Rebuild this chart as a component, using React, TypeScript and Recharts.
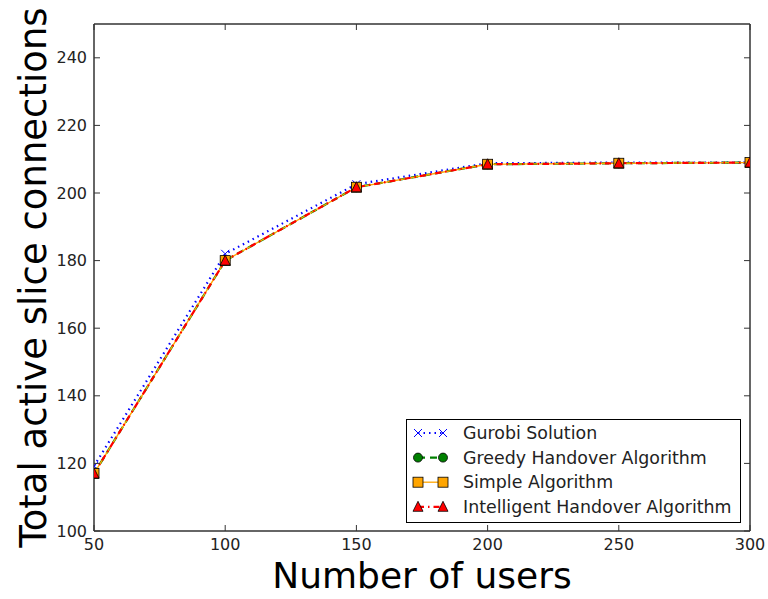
import React from 'react';
import { LineChart, Line, XAxis, YAxis, Legend, Label } from 'recharts';

// Number of users (x axis)
const users = [50, 100, 150, 200, 250, 300];

// Total active slice connections for each approach
const gurobi = [119.2, 182, 202.6, 208.8, 209, 209];
const greedy = [117, 180, 201.7, 208.5, 208.8, 209];
const simple = [117, 180, 201.7, 208.5, 208.8, 209];
const intelligent = [117, 180, 201.7, 208.5, 208.8, 209];

const xTicks = [50, 100, 150, 200, 250, 300];
const yTicks = [100, 120, 140, 160, 180, 200, 220, 240];

const data = users.map((u, i) => ({
  users: u,
  gurobi: gurobi[i],
  greedy: greedy[i],
  simple: simple[i],
  intelligent: intelligent[i],
}));

const FONT = '"DejaVu Sans", sans-serif';
const SPINE = '#333';
const TICK_LEN = 6;
const TICK_FONT = 16;

type Marker = 'x' | 'circle' | 'square' | 'triangle';

const MarkerShape = ({ kind, cx, cy, color }: { kind: Marker; cx: number; cy: number; color: string }) => {
  if (cx == null || cy == null) return null;
  switch (kind) {
    case 'x':
      return (
        <path
          d={`M${cx - 4},${cy - 4}L${cx + 4},${cy + 4}M${cx - 4},${cy + 4}L${cx + 4},${cy - 4}`}
          stroke={color}
          strokeWidth={1}
          fill="none"
        />
      );
    case 'circle':
      return <circle cx={cx} cy={cy} r={4.5} fill={color} stroke="#000" strokeWidth={0.8} />;
    case 'square':
      return <rect x={cx - 5} y={cy - 5} width={10} height={10} fill={color} stroke="#000" strokeWidth={0.8} />;
    case 'triangle':
      return (
        <path
          d={`M${cx},${cy - 5.5}L${cx + 5},${cy + 4.5}L${cx - 5},${cy + 4.5}Z`}
          fill={color}
          stroke="#000"
          strokeWidth={0.8}
        />
      );
  }
  return null;
};

const series: { key: string; name: string; color: string; dash: string; width: number; marker: Marker }[] = [
  { key: 'gurobi', name: 'Gurobi Solution', color: '#0000ff', dash: '1.5 4', width: 2.2, marker: 'x' },
  { key: 'greedy', name: 'Greedy Handover Algorithm', color: '#008000', dash: '7 5', width: 2.2, marker: 'circle' },
  { key: 'simple', name: 'Simple Algorithm', color: '#ffa500', dash: '', width: 1.3, marker: 'square' },
  { key: 'intelligent', name: 'Intelligent Handover Algorithm', color: '#ff0000', dash: '6 4 1.5 4', width: 2.2, marker: 'triangle' },
];

const BottomTick = (props: any) => {
  const { x, y, payload } = props;
  return (
    <g>
      <line x1={x} y1={y - 8} x2={x} y2={y - 8 - TICK_LEN} stroke={SPINE} strokeWidth={1} />
      <text x={x} y={y} dy="0.71em" textAnchor="middle" fill="#222" fontSize={TICK_FONT} fontFamily={FONT}>
        {payload.value}
      </text>
    </g>
  );
};

const TopTick = (props: any) => {
  const { x, y } = props;
  return <line x1={x} y1={y} x2={x} y2={y + TICK_LEN} stroke={SPINE} strokeWidth={1} />;
};

const LeftTick = (props: any) => {
  const { x, y, payload } = props;
  return (
    <g>
      <line x1={x + 7} y1={y} x2={x + 7 + TICK_LEN} y2={y} stroke={SPINE} strokeWidth={1} />
      <text x={x} y={y} dy="0.35em" textAnchor="end" fill="#222" fontSize={TICK_FONT} fontFamily={FONT}>
        {payload.value}
      </text>
    </g>
  );
};

const RightTick = (props: any) => {
  const { x, y } = props;
  return <line x1={x} y1={y} x2={x - TICK_LEN} y2={y} stroke={SPINE} strokeWidth={1} />;
};

const LegendBox = () => (
  <div
    style={{
      width: 335,
      height: 104,
      border: '1px solid #000',
      background: '#fff',
      boxSizing: 'border-box',
    }}
  >
    <svg width={333} height={102} style={{ display: 'block' }}>
      {series.map((s, i) => {
        const cy = 13 + i * 24.6;
        return (
          <g key={s.key}>
            <line
              x1={11}
              y1={cy}
              x2={36}
              y2={cy}
              stroke={s.color}
              strokeWidth={s.width}
              strokeDasharray={s.dash || undefined}
            />
            <MarkerShape kind={s.marker} cx={11} cy={cy} color={s.color} />
            <MarkerShape kind={s.marker} cx={36} cy={cy} color={s.color} />
            <text x={56} y={cy} dy="0.35em" fontSize={17.4} fontFamily={FONT} fill="#222">
              {s.name}
            </text>
          </g>
        );
      })}
    </svg>
  </div>
);

export default function App() {
  return (
    <div style={{ position: 'absolute', left: 0, top: 0, background: '#fff' }}>
      <LineChart width={768} height={599} data={data} margin={{ top: 23, right: 17, bottom: 0, left: 0 }}>
        <XAxis
          xAxisId="bottom"
          dataKey="users"
          type="number"
          domain={[50, 300]}
          ticks={xTicks}
          allowDataOverflow
          height={68}
          tickSize={0}
          tickMargin={8}
          tick={<BottomTick />}
          axisLine={{ stroke: SPINE, strokeWidth: 1.5 }}
        >
          <Label
            content={({ viewBox }: any) => (
              <text
                x={viewBox.x + viewBox.width / 2}
                y={588}
                textAnchor="middle"
                fontSize={36}
                fontFamily={FONT}
                fill="#000"
              >
                Number of users
              </text>
            )}
          />
        </XAxis>
        {/* top frame edge with inward ticks */}
        <XAxis
          xAxisId="top"
          orientation="top"
          dataKey="users"
          type="number"
          domain={[50, 300]}
          ticks={xTicks}
          allowDataOverflow
          height={1}
          tickSize={0}
          tickMargin={0}
          tick={<TopTick />}
          axisLine={{ stroke: SPINE, strokeWidth: 1.5 }}
        />
        <YAxis
          yAxisId="left"
          type="number"
          domain={[100, 250]}
          ticks={yTicks}
          allowDataOverflow
          width={94}
          tickSize={0}
          tickMargin={7}
          tick={<LeftTick />}
          axisLine={{ stroke: SPINE, strokeWidth: 1.5 }}
        >
          <Label
            content={({ viewBox }: any) => {
              const cx = 33;
              const cy = viewBox.y + viewBox.height / 2;
              return (
                <text
                  x={cx}
                  y={cy}
                  transform={`rotate(-90 ${cx} ${cy})`}
                  textAnchor="middle"
                  dy="0.35em"
                  fontSize={37}
                  fontFamily={FONT}
                  fill="#000"
                >
                  Total active slice connections
                </text>
              );
            }}
          />
        </YAxis>
        {/* right frame edge with inward ticks */}
        <YAxis
          yAxisId="right"
          orientation="right"
          type="number"
          domain={[100, 250]}
          ticks={yTicks}
          allowDataOverflow
          width={1}
          tickSize={0}
          tickMargin={0}
          tick={<RightTick />}
          axisLine={{ stroke: SPINE, strokeWidth: 1.5 }}
        />
        {/* invisible series that binds the top and right frame axes */}
        <Line
          xAxisId="top"
          yAxisId="right"
          dataKey="gurobi"
          stroke="none"
          dot={false}
          activeDot={false}
          legendType="none"
          isAnimationActive={false}
        />
        {series.map((s) => (
          <Line
            key={s.key}
            xAxisId="bottom"
            yAxisId="left"
            dataKey={s.key}
            name={s.name}
            type="linear"
            stroke={s.color}
            strokeWidth={s.width}
            strokeDasharray={s.dash || undefined}
            isAnimationActive={false}
            dot={(p: any) => <MarkerShape key={`${s.key}-${p.index}`} kind={s.marker} cx={p.cx} cy={p.cy} color={s.color} />}
            activeDot={false}
          />
        ))}
        <Legend
          layout="vertical"
          align="center"
          verticalAlign="middle"
          content={<LegendBox />}
          wrapperStyle={{ left: 406, top: 419, width: 335, height: 104 }}
        />
      </LineChart>
    </div>
  );
}
